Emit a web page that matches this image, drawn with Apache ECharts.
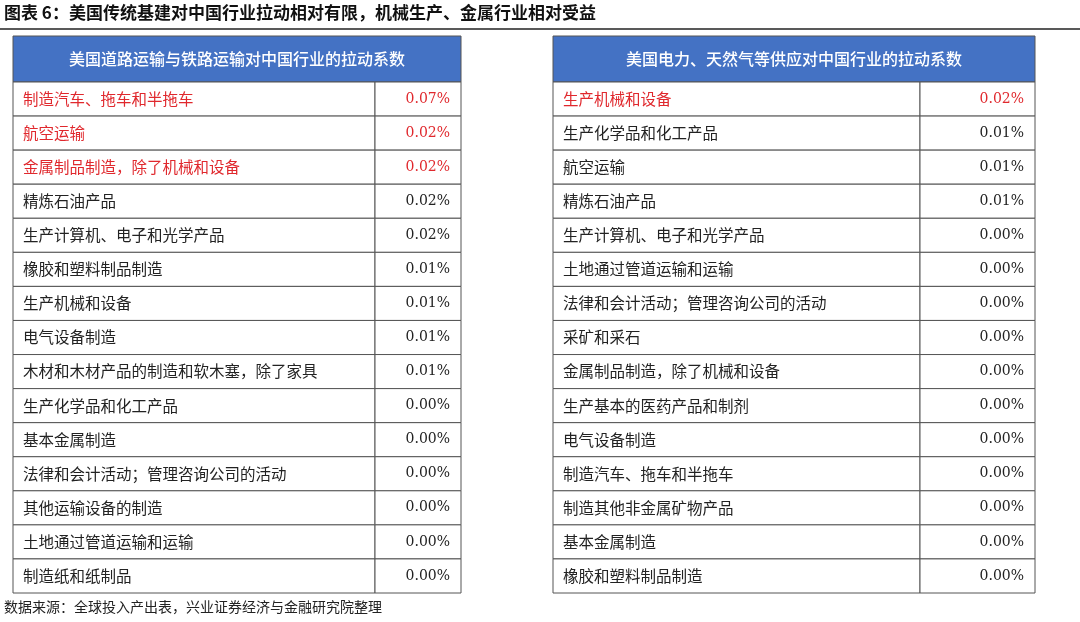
<!DOCTYPE html>
<html><head><meta charset="utf-8">
<script src="https://cdn.jsdelivr.net/npm/echarts@6/dist/echarts.min.js"></script>
<style>body{margin:0;background:#fff}#c{width:1080px;height:622px}</style>
</head><body><div id="c"></div>
<script>
var leftTitle = '美国道路运输与铁路运输对中国行业的拉动系数'
var leftNames = ['制造汽车、拖车和半拖车','航空运输','金属制品制造，除了机械和设备','精炼石油产品','生产计算机、电子和光学产品','橡胶和塑料制品制造','生产机械和设备','电气设备制造','木材和木材产品的制造和软木塞，除了家具','生产化学品和化工产品','基本金属制造','法律和会计活动；管理咨询公司的活动','其他运输设备的制造','土地通过管道运输和运输','制造纸和纸制品']
var leftValues = ['0.07%','0.02%','0.02%','0.02%','0.02%','0.01%','0.01%','0.01%','0.01%','0.00%','0.00%','0.00%','0.00%','0.00%','0.00%']
var leftRed = 3
var rightTitle = '美国电力、天然气等供应对中国行业的拉动系数'
var rightNames = ['生产机械和设备','生产化学品和化工产品','航空运输','精炼石油产品','生产计算机、电子和光学产品','土地通过管道运输和运输','法律和会计活动；管理咨询公司的活动','采矿和采石','金属制品制造，除了机械和设备','生产基本的医药产品和制剂','电气设备制造','制造汽车、拖车和半拖车','制造其他非金属矿物产品','基本金属制造','橡胶和塑料制品制造']
var rightValues = ['0.02%','0.01%','0.01%','0.01%','0.00%','0.00%','0.00%','0.00%','0.00%','0.00%','0.00%','0.00%','0.00%','0.00%','0.00%']
var rightRed = 1

var chart = echarts.init(document.getElementById('c'))
var rows = leftNames.map(function(_, i){ return i })

function makeSeries(idx, names, values, nRed, split){
  var data = []
  names.forEach(function(n, i){ data.push([0, i, n, i < nRed ? 1 : 0]); data.push([1, i, values[i], i < nRed ? 1 : 0]) })
  return {
    type: 'custom', xAxisIndex: idx, yAxisIndex: idx, data: data,
    renderItem: function(params, api){
      var col = api.value(0), row = api.value(1)
      var x0 = col === 0 ? 0 : split, x1 = col === 0 ? split : 1
      var h = api.size([0, 1])[1]
      var p0 = api.coord([x0, row]), p1 = api.coord([x1, row])
      var top = p0[1] - h / 2
      var red = api.value(3) === 1
      var txt = data[params.dataIndex][2]
      return {
        type: 'group', children: [
          {type: 'rect', shape: {x: p0[0], y: top, width: p1[0] - p0[0], height: h},
           style: {fill: '#fff', stroke: '#555', lineWidth: 1}},
          {type: 'text', style: {
            text: txt, x: col === 0 ? p0[0] + 10 : p1[0] - 11, y: top + h / 2,
            align: col === 0 ? 'left' : 'right', verticalAlign: 'middle',
            fill: red ? '#e0282d' : '#222',
            font: col === 0 ? '15.5px "Noto Sans CJK SC"' : '14px "DejaVu Serif"'}}
        ]}
    }
  }
}

function axes(){
  return {
    x: {type: 'value', min: 0, max: 1, show: false},
    y: {type: 'category', data: rows, inverse: true, show: false}
  }
}
var a0 = axes(), a1 = axes()
a1.x.gridIndex = 1; a1.y.gridIndex = 1

function header(x, w, text){
  return [
    {type: 'rect', shape: {x: x, y: 36, width: w, height: 46}, style: {fill: '#4472c4', stroke: '#555', lineWidth: 1}},
    {type: 'text', x: x + w / 2, y: 59, style: {text: text, fill: '#fff', font: '500 16px "Noto Sans CJK SC"', align: 'center', verticalAlign: 'middle'}}
  ]
}

chart.setOption({
  animation: false,
  grid: [
    {left: 13, top: 82, width: 448, height: 511},
    {left: 553, top: 82, width: 482, height: 511}
  ],
  xAxis: [a0.x, a1.x],
  yAxis: [a0.y, a1.y],
  graphic: [
    {type: 'text', left: 4, top: 4, style: {text: '图表 6：美国传统基建对中国行业拉动相对有限，机械生产、金属行业相对受益', fill: '#111', font: 'bold 17px "Noto Sans CJK SC"'}},
    {type: 'line', shape: {x1: 0, y1: 29, x2: 1080, y2: 29}, style: {stroke: '#222', lineWidth: 1.5}}
  ].concat(header(13, 448, leftTitle), header(553, 482, rightTitle), [
    {type: 'text', left: 4, top: 600, style: {text: '数据来源：全球投入产出表，兴业证券经济与金融研究院整理', fill: '#222', font: '14px "Noto Sans CJK SC"'}}
  ]),
  series: [
    makeSeries(0, leftNames, leftValues, leftRed, 362 / 448),
    makeSeries(1, rightNames, rightValues, rightRed, 367 / 482)
  ]
})
</script></body></html>
